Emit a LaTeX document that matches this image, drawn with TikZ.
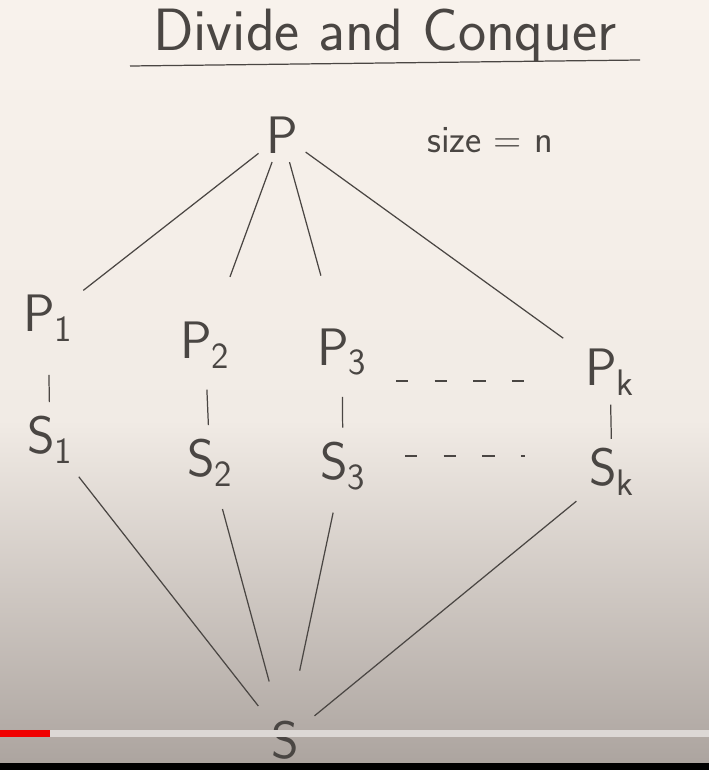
\documentclass[tikz,border=0pt]{standalone}
\usetikzlibrary{calc}
\definecolor{wbInk}{HTML}{4A4643}
\definecolor{wbTop}{HTML}{F8F2EC}
\definecolor{wbMid}{HTML}{F1EBE5}
\definecolor{wbBot}{HTML}{ABA39E}
\definecolor{barGrey}{HTML}{DCD8D5}
\definecolor{barRed}{HTML}{F00000}

\begin{document}
\begin{tikzpicture}[x=0.02cm,y=-0.02cm,
  lbl/.style={text=wbInk, font=\sffamily\fontsize{30}{30}\selectfont, inner sep=1pt},
  title/.style={lbl, font=\sffamily\fontsize{34}{34}\selectfont},
  note/.style={lbl, font=\sffamily\fontsize{22}{22}\selectfont},
  ink/.style={draw=wbInk, line width=0.7pt},
  vbar/.style={ink, shorten <=11pt, shorten >=7pt},
  gap/.style={ink, dash pattern=on 7pt off 15pt}
]
  \useasboundingbox (0,0) rectangle (709,770);
  \shade[top color=wbTop, bottom color=wbMid] (0,0) rectangle (709,420);
  \shade[top color=wbMid, bottom color=wbBot] (0,420) rectangle (709,770);

  \node[title] (ttl) at (385,36) {Divide and Conquer};
  \coordinate (ul1) at (130,66);
  \coordinate (ul2) at (640,60);
  \draw[ink] (ul1) -- (ul2);

  \node[lbl] (P) at (282,135) {P};
  \node[note] (size) at (490,140) {size = n};

  \node[lbl] (p1) at (48,318) {P\textsubscript{1}};
  \node[lbl] (p2) at (205,345) {P\textsubscript{2}};
  \node[lbl] (p3) at (342,352) {P\textsubscript{3}};
  \node[lbl] (pk) at (610,372) {P\textsubscript{k}};

  \node[lbl] (s1) at (50,440) {S\textsubscript{1}};
  \node[lbl] (s2) at (210,463) {S\textsubscript{2}};
  \node[lbl] (s3) at (343,466) {S\textsubscript{3}};
  \node[lbl] (sk) at (612,472) {S\textsubscript{k}};

  \node[lbl] (S) at (285,740) {S};

  \draw[ink, shorten <=4pt, shorten >=6pt] (P) -- (p1);
  \draw[ink, shorten <=4pt, shorten >=26pt] (P) -- (p2);
  \draw[ink, shorten <=4pt, shorten >=30pt] (P) -- (p3);
  \draw[ink, shorten <=4pt, shorten >=14pt] (P) -- (pk);

  \draw[vbar, shorten <=18pt] (p1) -- (s1);
  \draw[vbar] (p2) -- (s2);
  \draw[vbar] (p3) -- (s3);
  \draw[vbar, shorten <=4pt, shorten >=4pt] (pk) -- (sk);

  \coordinate (d1) at (396,381);
  \coordinate (d2) at (536,381);
  \draw[gap] (d1) -- (d2);
  \coordinate (e1) at (405,456);
  \coordinate (e2) at (525,456);
  \draw[gap] (e1) -- (e2);

  \draw[ink, shorten <=8pt, shorten >=10pt] (s1) -- (S);
  \draw[ink, shorten <=12pt, shorten >=22pt] (s2) -- (S);
  \draw[ink, shorten <=12pt, shorten >=28pt] (s3) -- (S);
  \draw[ink, shorten <=8pt, shorten >=10pt] (sk) -- (S);

  \fill[barGrey] (0,730) rectangle (709,737);
  \fill[barRed] (0,730) rectangle (50,737);
  \fill[black] (0,763) rectangle (709,770);
\end{tikzpicture}
\end{document}
